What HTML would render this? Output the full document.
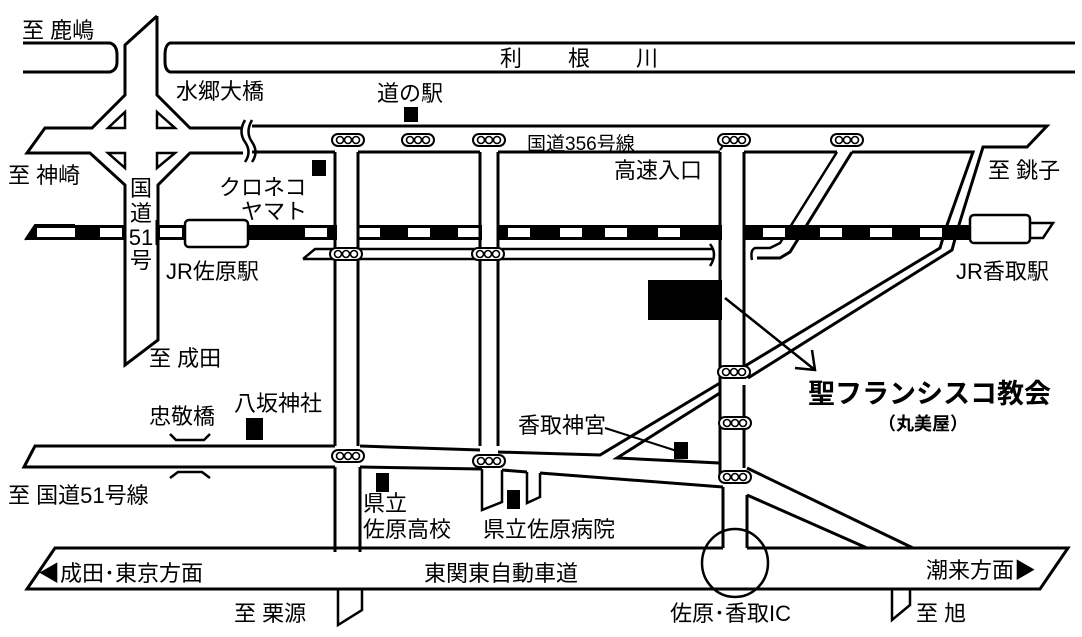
<!DOCTYPE html>
<html><head><meta charset="utf-8"><style>
html,body{margin:0;padding:0;background:#fff;}
svg{display:block}
text{font-family:"Liberation Sans","Noto Sans CJK JP",sans-serif;fill:#000;}
</style></head><body>
<svg width="1082" height="637" viewBox="0 0 1082 637" xmlns="http://www.w3.org/2000/svg">
<defs>
<g id="tl"><rect x="-16" y="-6" width="32" height="12" rx="6" fill="#fff" stroke="#000" stroke-width="2"/><circle cx="-8" cy="0" r="3.5" fill="#fff" stroke="#000" stroke-width="1.6"/><circle cx="0" cy="0" r="3.5" fill="#fff" stroke="#000" stroke-width="1.6"/><circle cx="8" cy="0" r="3.5" fill="#fff" stroke="#000" stroke-width="1.6"/></g>
</defs>
<rect width="1082" height="637" fill="#fff"/>
<g fill="none" stroke="#000" stroke-width="3" stroke-linejoin="miter">
<path d="M23 43 H110 Q117 45 117 55 V62 Q117 70 110 72 H23"/>
<path d="M1075 43 H170 Q165 45 165 55 V62 Q165 70 170 72 H1075"/>
<path d="M157 16 V95 L190 128 H243"/>
<path d="M157 16 L125 45 V95 L92 128 H45 L27 153 H90 L125 185 V365 L158 340 V185 L190 153 H243"/>
<path d="M125 112 L108 128 H125 Z M157 112 L175 128 H157 Z M108 153 H125 V168 Z M157 153 H175 L157 168 Z" stroke-width="2.5"/>
<path d="M245 120 Q238 132 245 142 Q252 152 245 162" stroke-width="2.5"/>
<path d="M252 120 Q245 132 252 142 Q259 152 252 162" stroke-width="2.5"/>
<path d="M252 126 H1047 L1027 147 H983 L958 228 L952 250 L748 378"/>
<path d="M252 152 H335 M358 152 H480 M498 152 H720 M744 152 H837 M852 152 H973 L946 228 L940 248 L745 366"/>
<path d="M837 152 L780 243 L770 248 H755 Q750 250 752 260" stroke-width="2.5"/>
<path d="M852 152 L790 252 L780 258 H757"/>
<path d="M335 152 V446 M358 152 V446 M335 467 V552 M360 467 V552"/>
<path d="M480 152 V446 M498 152 V446"/>
<path d="M720 152 V476 M744 152 V366 M744 385 V468 M723 487 V548 M747 495 V548"/>
<path d="M303 259 L315 249 H712 M303 259 H712" stroke-width="2.5"/>
<path d="M710 244 Q718 254 710 266" stroke-width="2.5"/>
<path d="M335 446 H35 L24 467 H335"/>
<path d="M360 446 L480 450 M498 452 L600 455 L720 383"/>
<path d="M360 467 L482 469 M502 470 L527 472 M540 473 L723 487"/>
<path d="M617 458 L720 393 V463 Z"/>
<path d="M482 469 V510 L502 502 V470 M527 472 V503 L540 497 V473" stroke-width="2.5"/>
<path d="M747 468 L913 548 M747 495 L867 548"/>
<path d="M723 548 H55 L27 589 H1040 L1068 548 H747"/>
<ellipse cx="735" cy="563" rx="33" ry="34" stroke-width="2.5"/>
<path d="M338 589 V625 L362 610 V589 M892 589 V620 L910 605 V589" stroke-width="2.5"/>
<path d="M170 434 L176 440 H204 L210 434 M170 478 L178 472 H202 L210 478" stroke-width="2.5"/>
<path d="M725 298 L815 370 M812 350 L815 370 L795 368" stroke-width="2.5"/>
<path d="M605 428 L680 452" stroke-width="2"/>
<path d="M720 150 L727 140" stroke-width="2"/>
</g>
<path d="M25 240 L35 225 H970 V240 Z" fill="#000"/>
<path d="M1030 223 H1053 L1043 238 H1030" fill="#fff" stroke="#000" stroke-width="2.5"/>
<g fill="#fff">
<rect x="37" y="228" width="38" height="9"/>
<rect x="100" y="228" width="22" height="9"/>
<rect x="160" y="228" width="22" height="9"/>
<rect x="305" y="228" width="22" height="9"/><rect x="358" y="228" width="22" height="9"/><rect x="408" y="228" width="22" height="9"/><rect x="458" y="228" width="22" height="9"/><rect x="508" y="228" width="22" height="9"/><rect x="560" y="228" width="22" height="9"/><rect x="605" y="228" width="22" height="9"/><rect x="658" y="228" width="22" height="9"/><rect x="763" y="228" width="22" height="9"/><rect x="820" y="228" width="22" height="9"/><rect x="870" y="228" width="22" height="9"/><rect x="920" y="228" width="22" height="9"/>
<rect x="126" y="224" width="31" height="17"/>
<rect x="337" y="224" width="20" height="17"/>
<rect x="482" y="224" width="15" height="17"/>
<rect x="722" y="224" width="21" height="17"/>
</g>
<path d="M25 240 L35 225 H75" fill="none" stroke="#000" stroke-width="2"/>
<path d="M125 220 V245 M157 220 V245 M335 220 V245 M358 220 V245 M480 220 V245 M498 220 V245 M720 220 V245 M744 220 V245" stroke="#000" stroke-width="3"/>
<rect x="185" y="220" width="63" height="27" rx="4" fill="#fff" stroke="#000" stroke-width="2.5"/>
<rect x="970" y="215" width="60" height="28" rx="4" fill="#fff" stroke="#000" stroke-width="2.5"/>
<use href="#tl" x="348" y="140"/><use href="#tl" x="418" y="140"/><use href="#tl" x="489" y="140"/><use href="#tl" x="734" y="140"/><use href="#tl" x="847" y="140"/>
<use href="#tl" x="346" y="254"/><use href="#tl" x="488" y="254"/>
<use href="#tl" x="734" y="372"/><use href="#tl" x="735" y="423"/><use href="#tl" x="735" y="477"/>
<use href="#tl" x="348" y="456"/><use href="#tl" x="489" y="461"/>
<g fill="#000">
<rect x="404" y="107" width="14" height="15"/>
<rect x="312" y="160" width="14" height="16"/>
<rect x="648" y="280" width="74" height="40"/>
<rect x="246" y="418" width="17" height="22"/>
<rect x="674" y="442" width="14" height="17"/>
<rect x="376" y="473" width="13" height="19"/>
<rect x="507" y="490" width="13" height="19"/>
</g>
<g font-size="22">
<text x="22" y="38">至 鹿嶋</text>
<text x="500" y="66" letter-spacing="46">利根川</text>
<text x="176" y="99">水郷大橋</text>
<text x="377" y="101">道の駅</text>
<text x="527" y="150" font-size="19">国道356号線</text>
<text x="614" y="178">高速入口</text>
<text x="988" y="178">至 銚子</text>
<text x="8" y="183">至 神崎</text>
<text x="219" y="195">クロネコ</text>
<text x="241" y="219">ヤマト</text>
<text x="166" y="279">JR佐原駅</text>
<text x="956" y="279">JR香取駅</text>
<text x="149" y="366">至 成田</text>
<text x="234" y="411">八坂神社</text>
<text x="149" y="424">忠敬橋</text>
<text x="518" y="433">香取神宮</text>
<text x="8" y="503">至 国道51号線</text>
<text x="363" y="511">県立</text>
<text x="363" y="537">佐原高校</text>
<text x="483" y="537">県立佐原病院</text>
<text x="38" y="581">◀成田･東京方面</text>
<text x="424" y="581">東関東自動車道</text>
<text x="926" y="578">潮来方面▶</text>
<text x="234" y="621">至 栗源</text>
<text x="670" y="621">佐原･香取IC</text>
<text x="916" y="621">至 旭</text>
</g>
<g font-size="22" text-anchor="middle">
<text x="141" y="196">国</text>
<text x="141" y="221">道</text>
<text x="141" y="245">51</text>
<text x="141" y="268">号</text>
</g>
<text x="808" y="403" font-size="27" font-weight="bold">聖フランシスコ教会</text>
<text x="878" y="430" font-size="18" font-weight="bold">（丸美屋）</text>
</svg>
</body></html>
